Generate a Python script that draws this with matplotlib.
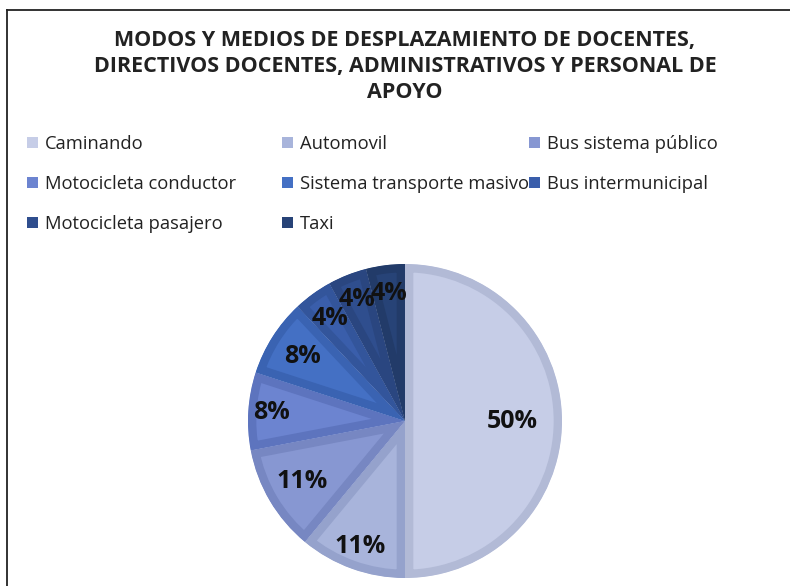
import matplotlib
matplotlib.use("Agg")
import matplotlib.pyplot as plt
from matplotlib.patches import Patch
from matplotlib.lines import Line2D
import numpy as np

plt.rcParams['font.family'] = ['Open Sans', 'DejaVu Sans']

title = "MODOS Y MEDIOS DE DESPLAZAMIENTO DE DOCENTES,\nDIRECTIVOS DOCENTES, ADMINISTRATIVOS Y PERSONAL DE\nAPOYO"
categories = ["Caminando", "Automovil", "Bus sistema público",
              "Motocicleta conductor", "Sistema transporte masivo",
              "Bus intermunicipal", "Motocicleta pasajero", "Taxi"]
values = [50, 11, 11, 8, 8, 4, 4, 4]

face_colors = ["#C6CDE7", "#A8B4DB", "#8797D2", "#6C84D0",
               "#4470C4", "#3A5EAB", "#2F4E8E", "#274377"]
edge_colors = ["#B2BAD6", "#95A2CC", "#7787C2", "#5D74BE",
               "#3A63B2", "#33559B", "#2A4680", "#223B69"]
label_radii = [0.68, 0.85, 0.76, 0.85, 0.77, 0.81, 0.83, 0.82]

fig = plt.figure(figsize=(7.9, 5.86), dpi=100)
fig.patch.set_facecolor("white")

# pie axes: center (405,421) px from top-left, radius 157 px
W, H = 790, 586
cx, cy, r = 405, 421, 157
ax = fig.add_axes([(cx - r) / W, (H - cy - r) / H, 2 * r / W, 2 * r / H])
wedges, texts, autotexts = ax.pie(
    values, colors=face_colors, startangle=90, counterclock=False,
    autopct="%.0f%%", pctdistance=1.0, radius=1.0,
    wedgeprops=dict(linewidth=12, edgecolor="none"),
    textprops=dict(fontsize=18, fontweight="bold", color="#111111"))
for w, ec in zip(wedges, edge_colors):
    w.set_edgecolor(ec)
    w.set_joinstyle("miter")
    w.set_clip_on(True)
    w.set_clip_path(w.get_path(), w.get_transform())
for t, rr in zip(autotexts, label_radii):
    x, y = t.get_position()
    t.set_position((x * rr, y * rr))
ax.set_xlim(-1.0, 1.0)
ax.set_ylim(-1.0, 1.0)
ax.set_aspect("equal")
ax.axis("off")

# title
fig.text(cx / W, 1 - 30 / H, title, ha="center", va="top",
         fontsize=15.5, fontweight="bold", color="#222222",
         linespacing=1.3)

# legend in three columns
handles = [Patch(facecolor=c, edgecolor="none") for c in face_colors]
columns = [[0, 3, 6], [1, 4, 7], [2, 5]]
col_x = [27, 282, 529]
for idxs, x in zip(columns, col_x):
    fig.legend([handles[i] for i in idxs], [categories[i] for i in idxs],
               loc="upper left", bbox_to_anchor=(x / W, 1 - 135 / H),
               frameon=False, fontsize=13.2, handlelength=0.62,
               handleheight=0.62, handletextpad=0.35, borderpad=0,
               borderaxespad=0, labelspacing=1.2, labelcolor="#222222")

# frame lines (left and top)
fig.add_artist(Line2D([6.5 / W, 6.5 / W], [0, 1 - 10 / H], transform=fig.transFigure,
                      color="#222222", linewidth=1.3))
fig.add_artist(Line2D([6.5 / W, 1], [1 - 10 / H, 1 - 10 / H], transform=fig.transFigure,
                      color="#222222", linewidth=1.3))

fig.savefig("out.png", dpi=100)
